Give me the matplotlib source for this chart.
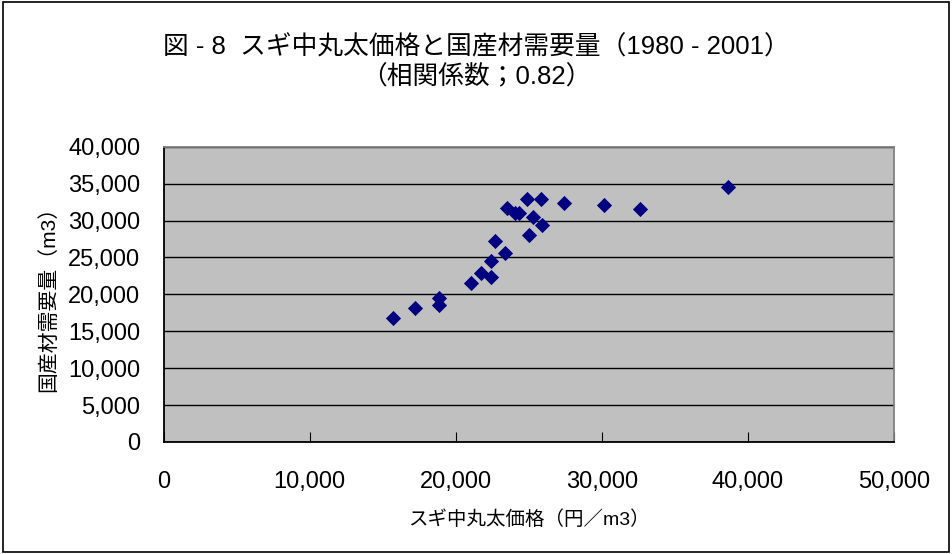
import matplotlib
import matplotlib.pyplot as plt
from matplotlib.patches import Rectangle
from matplotlib.ticker import FuncFormatter, MultipleLocator
matplotlib.use('Agg')

plt.rcParams['font.family'] = ['Liberation Sans', 'Noto Sans CJK JP']

# スギ中丸太価格 (円/m3) と 国産材需要量 (m3), 1980-2001
price = [15720, 17200, 18830, 18830, 21020, 21700, 22410, 22410, 23350, 22680, 24990,
         25920, 25260, 23480, 24050, 24330, 24850, 25810, 27430, 30170, 32630, 38630]
demand = [16760, 18110, 19460, 18560, 21580, 22930, 22390, 24560, 25640, 27270, 28040,
          29390, 30520, 31660, 31060, 31060, 32920, 32920, 32420, 32140, 31560, 34580]

title = '図 - 8  スギ中丸太価格と国産材需要量（1980 - 2001）\n（相関係数；0.82）'
xlabel = 'スギ中丸太価格（円／m3）'
ylabel = '国産材需要量（m3）'


def comma(v, pos):
    return '{:,.0f}'.format(v)


fig = plt.figure(figsize=(9.52, 5.54), dpi=100)
ax = fig.add_axes([0.172, 0.2022, 0.767, 0.533])
ax.set_facecolor('#c0c0c0')

ax.scatter(price, demand, marker='D', s=60, color='#000080', zorder=3, linewidths=0)

ax.set_xlim(0, 50000)
ax.set_ylim(0, 40000)
ax.xaxis.set_major_locator(MultipleLocator(10000))
ax.yaxis.set_major_locator(MultipleLocator(5000))
ax.xaxis.set_major_formatter(FuncFormatter(comma))
ax.yaxis.set_major_formatter(FuncFormatter(comma))
ax.yaxis.grid(True, color='black', lw=1)
ax.set_axisbelow(True)

ax.tick_params(axis='x', direction='in', length=7, pad=21, labelsize=17)
ax.tick_params(axis='y', direction='in', length=0, pad=17, labelsize=17)

for side in ['left', 'bottom']:
    ax.spines[side].set_color('black')
    ax.spines[side].set_linewidth(1.3)
for side in ['top', 'right']:
    ax.spines[side].set_color('#808080')
    ax.spines[side].set_linewidth(1.3)

ax.set_xlabel(xlabel, fontsize=14, labelpad=12)
ax.set_ylabel(ylabel, fontsize=15, labelpad=7)

fig.text(0.5, 0.888, title, ha='center', va='center', fontsize=18.5, linespacing=1.25)

# 外枠
fig.patches.append(Rectangle((0.003, 0.004), 0.994, 0.992, transform=fig.transFigure,
                             fill=False, edgecolor='black', lw=1.2))

fig.savefig('out.png', dpi=100)
